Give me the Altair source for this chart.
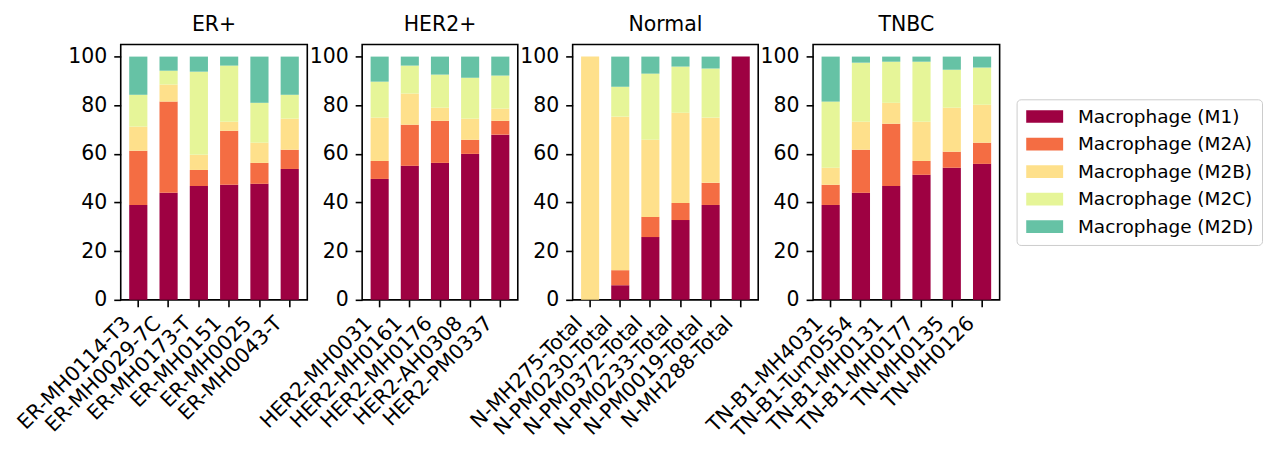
import altair as alt
import pandas as pd

groups = ["ER+", "HER2+", "Normal", "TNBC"]
samples = [
    "ER-MH0114-T3", "ER-MH0029-7C", "ER-MH0173-T", "ER-MH0151", "ER-MH0025", "ER-MH0043-T",
    "HER2-MH0031", "HER2-MH0161", "HER2-MH0176", "HER2-AH0308", "HER2-PM0337",
    "N-MH275-Total", "N-PM0230-Total", "N-PM0372-Total", "N-PM0233-Total", "N-PM0019-Total", "N-MH288-Total",
    "TN-B1-MH4031", "TN-B1-Tum0554", "TN-B1-MH0131", "TN-B1-MH0177", "TN-MH0135", "TN-MH0126",
]
sample_group = ["ER+"] * 6 + ["HER2+"] * 5 + ["Normal"] * 6 + ["TNBC"] * 6

cell_types = ["Macrophage (M1)", "Macrophage (M2A)", "Macrophage (M2B)",
              "Macrophage (M2C)", "Macrophage (M2D)"]
colors = ["#9e0142", "#f46d43", "#fee08b", "#e6f598", "#66c2a5"]

m1 = [39.0, 44.0, 46.8, 47.3, 47.7, 53.8,
      49.7, 55.1, 56.3, 60.0, 67.9,
      0.0, 6.0, 25.8, 32.8, 39.0, 100.0,
      39.0, 44.0, 46.8, 51.4, 54.3, 55.9]
m2a = [22.3, 37.5, 6.6, 22.2, 8.6, 7.9,
       7.4, 16.9, 17.3, 5.8, 5.7,
       0.0, 6.2, 8.3, 7.0, 9.1, 0.0,
       8.3, 17.7, 25.6, 5.7, 6.6, 8.7]
m2b = [9.9, 7.0, 6.2, 3.7, 8.3, 12.8,
       17.8, 12.8, 5.4, 8.7, 5.0,
       100.0, 63.1, 31.7, 37.1, 26.8, 0.0,
       7.0, 11.5, 8.6, 16.1, 18.1, 15.6]
m2c = [13.1, 5.7, 34.2, 23.1, 16.4, 9.8,
       14.8, 11.5, 13.6, 16.8, 13.6,
       0.0, 12.3, 27.2, 19.0, 20.2, 0.0,
       27.2, 24.3, 16.9, 24.7, 15.6, 15.3]
m2d = [15.7, 5.8, 6.2, 3.7, 19.0, 15.7,
       10.3, 3.7, 7.4, 8.7, 7.8,
       0.0, 12.4, 7.0, 4.1, 4.9, 0.0,
       18.5, 2.5, 2.1, 2.1, 5.4, 4.5]

series = [m1, m2a, m2b, m2c, m2d]
rows = []
for k, (ct, vals) in enumerate(zip(cell_types, series)):
    for s, g, v in zip(samples, sample_group, vals):
        rows.append({"sample": s, "group": g, "type": ct, "idx": k, "value": v})
df = pd.DataFrame(rows)

FONT = "DejaVu Sans"
widths = {"ER+": 187, "HER2+": 156, "Normal": 186, "TNBC": 187}

panels = []
for g in groups:
    order_s = [s for s, gg in zip(samples, sample_group) if gg == g]
    c = (
        alt.Chart(df)
        .transform_filter(alt.datum.group == g)
        .mark_bar()
        .encode(
            x=alt.X("sample:N", sort=order_s, title=None,
                    scale=alt.Scale(paddingInner=0.4, paddingOuter=0.28),
                    axis=alt.Axis(labelAngle=-45, labelAlign="right", labelBaseline="top",
                                  labelOffset=-18, labelPadding=6)),
            y=alt.Y("value:Q", stack="zero", title=None,
                    scale=alt.Scale(domain=[0, 105], nice=False),
                    axis=alt.Axis(values=[0, 20, 40, 60, 80, 100], labelPadding=7)),
            color=alt.Color("type:N", title=None,
                            scale=alt.Scale(domain=cell_types, range=colors),
                            legend=alt.Legend(orient="none", legendX=898, legendY=55)),
            order=alt.Order("idx:Q", sort="ascending"),
        )
        .properties(width=widths[g], height=256, title=g)
    )
    panels.append(c)

chart = (
    alt.hconcat(*panels, spacing=55, bounds="flush")
    .configure(background="white", font=FONT)
    .configure_view(stroke="black", strokeWidth=1.6)
    .configure_axis(domain=False, grid=False, ticks=True, tickSize=7, tickWidth=1.6,
                    tickColor="black", labelColor="black", labelFont=FONT,
                    labelFontSize=20.5)
    .configure_title(font=FONT, fontSize=20.5, fontWeight="normal", color="black", offset=9)
    .configure_legend(labelFont=FONT, labelFontSize=18.5, labelColor="black", labelLimit=400,
                      symbolType="M-3.7,-1.27L3.7,-1.27L3.7,1.27L-3.7,1.27Z",
                      symbolSize=100, symbolStrokeWidth=0, symbolOpacity=1,
                      symbolOffset=10.9, labelOffset=24.1, rowPadding=8.6, padding=8,
                      strokeColor="#cccccc", fillColor="white", cornerRadius=4)
)

chart.save("out.html", embed_options={"renderer": "svg", "actions": False})
